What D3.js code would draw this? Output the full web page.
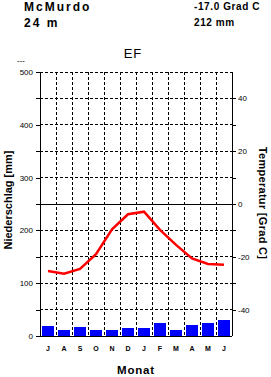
<!DOCTYPE html>
<meta charset="utf-8">
<script src="https://d3js.org/d3.v7.min.js"></script>
<style>
  body { margin: 0; background: #fff; }
  text { font-family: "Liberation Sans", Arial, sans-serif; fill: #000; }
</style>
<div id="chart"></div>
<script>
// monthly values, July .. June
var months = ["J", "A", "S", "O", "N", "D", "J", "F", "M", "A", "M", "J"];
var precip = [19, 11, 17, 11, 11, 15, 16, 24, 12, 21, 24, 31];
var temp = [-25.4, -26.4, -24.6, -19.0, -9.6, -3.9, -2.9, -9.8, -15.5, -20.6, -22.7, -23.0];
var precipTicks = [0, 50, 100, 150, 200, 250, 300, 350, 400, 450, 500];
var tempTicks = [-40, -30, -20, -10, 0, 10, 20, 30, 40];

var W = 271, H = 377;
var pLeft = 40, pRight = 232, pTop = 72, pBottom = 336;

var svg = d3.select("#chart").append("svg")
  .attr("width", W).attr("height", H);

var idx = d3.range(months.length);
var xSlot = d3.scaleBand().domain(idx).range([pLeft, pRight]);
var xBar = d3.scaleBand().domain(idx).range([pLeft, pRight]).paddingInner(0.3).paddingOuter(0.15);
var yP = d3.scaleLinear().domain([0, 500]).range([pBottom, pTop]);
var yT = d3.scaleLinear().domain([-50, 50]).range([pBottom, pTop]);

// grid
var grid = svg.append("g").attr("stroke", "#000").attr("stroke-width", 1).attr("shape-rendering", "crispEdges");
grid.selectAll(".v").data(idx.slice(1)).enter().append("line")
  .attr("x1", d => xSlot(d)).attr("x2", d => xSlot(d))
  .attr("y1", pTop).attr("y2", pBottom)
  .attr("stroke-dasharray", "3,2");
grid.selectAll(".h").data(precipTicks.filter(d => d > 0)).enter().append("line")
  .attr("x1", pLeft).attr("x2", pRight)
  .attr("y1", d => yP(d)).attr("y2", d => yP(d))
  .attr("stroke-dasharray", d => d == 250 ? null : "3,2");

// bars
svg.selectAll(".bar").data(precip).enter().append("rect")
  .attr("x", (d, i) => xBar(i))
  .attr("width", xBar.bandwidth())
  .attr("y", d => yP(d))
  .attr("height", d => yP(0) - yP(d))
  .attr("fill", "#0000ff")
  .attr("shape-rendering", "crispEdges");

// temperature
var line = d3.line().x((d, i) => xSlot(i) + xSlot.bandwidth() / 2).y(d => yT(d));
svg.append("path").datum(temp)
  .attr("d", line)
  .attr("fill", "none")
  .attr("stroke", "#ff0000")
  .attr("stroke-width", 2.5);

// axes
var axL = svg.append("g").attr("transform", "translate(" + pLeft + ",0)")
  .call(d3.axisLeft(yP).tickValues(precipTicks).tickSize(4).tickPadding(3)
    .tickFormat(d => d % 100 == 0 ? d : ""));
var axR = svg.append("g").attr("transform", "translate(" + pRight + ",0)")
  .call(d3.axisRight(yT).tickValues(tempTicks).tickSize(4).tickPadding(2)
    .tickFormat(d => d % 20 == 0 ? d : ""));
[axL, axR].forEach(function(a) {
  a.select(".domain").attr("d", "M0," + pTop + "V" + pBottom);
  a.selectAll("text").style("font-size", "8px");
  a.attr("shape-rendering", "crispEdges");
});
svg.append("line").attr("x1", pLeft).attr("x2", pRight)
  .attr("y1", pBottom).attr("y2", pBottom)
  .attr("stroke", "#000").attr("shape-rendering", "crispEdges");

var axB = svg.append("g").attr("transform", "translate(0," + pBottom + ")")
  .call(d3.axisBottom(xSlot).tickSize(0).tickPadding(10).tickFormat(i => months[i]));
axB.select(".domain").remove();
axB.selectAll("text").style("font-size", "7px").style("font-weight", "bold");

// titles
svg.append("text").attr("x", 24).attr("y", 11).text("McMurdo")
  .style("font-size", "12px").style("font-weight", "bold").style("letter-spacing", "2px");
svg.append("text").attr("x", 24).attr("y", 27).text("24 m")
  .style("font-size", "12px").style("font-weight", "bold").style("letter-spacing", "2px");
svg.append("text").attr("x", 194).attr("y", 10).text("-17.0 Grad C")
  .style("font-size", "10px").style("font-weight", "bold").style("letter-spacing", "0.6px");
svg.append("text").attr("x", 194).attr("y", 26).text("212 mm")
  .style("font-size", "10px").style("font-weight", "bold").style("letter-spacing", "0.6px");
svg.append("text").attr("x", 133).attr("y", 58).attr("text-anchor", "middle").text("EF")
  .style("font-size", "13px").style("letter-spacing", "1px");
svg.append("text").attr("x", 17).attr("y", 63).text("---").style("font-size", "8px");

svg.append("text").attr("x", 136).attr("y", 374).attr("text-anchor", "middle").text("Monat")
  .style("font-size", "11.5px").style("font-weight", "bold").style("letter-spacing", "0.8px");
svg.append("text").attr("transform", "translate(12,200) rotate(-90)")
  .attr("text-anchor", "middle").text("Niederschlag [mm]")
  .style("font-size", "11px").style("font-weight", "bold");
svg.append("text").attr("transform", "translate(259,203) rotate(90)")
  .attr("text-anchor", "middle").text("Temperatur [Grad C]")
  .style("font-size", "11px").style("font-weight", "bold").style("letter-spacing", "0.3px");
</script>
